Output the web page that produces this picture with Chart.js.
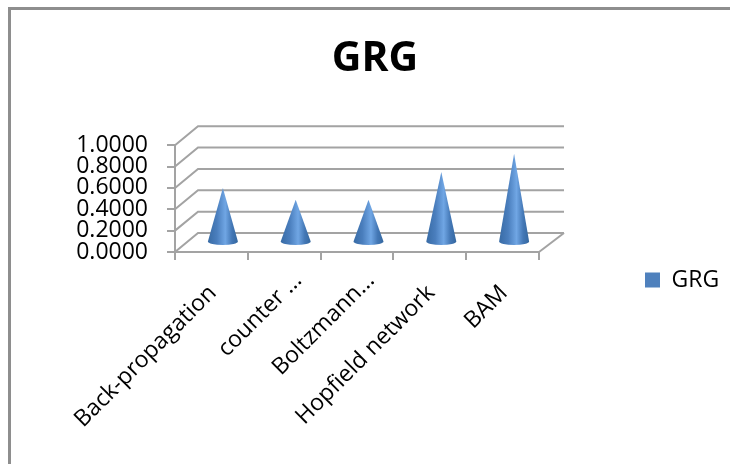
<!DOCTYPE html>
<html>
<head>
<meta charset="utf-8">
<script src="https://cdn.jsdelivr.net/npm/chart.js@4"></script>
<style>
  html, body { margin: 0; background: #fff; }
  #wrap { position: relative; width: 730px; height: 464px; overflow: hidden; }
  #frame { position: absolute; left: 8px; top: 7px; width: 730px; height: 470px; border-left: 3px solid #8e8e8e; border-top: 3px solid #8e8e8e; }
  canvas { position: absolute; left: 0; top: 0; }
</style>
</head>
<body>
<div id="wrap">
  <div id="frame"></div>
  <canvas id="myChart" width="730" height="464"></canvas>
</div>
<script>
const categories = ['Back-propagation', 'counter ...', 'Boltzmann...', 'Hopfield network', 'BAM'];
const grgValues = [0.51, 0.40, 0.40, 0.66, 0.83];
const yTicks = [0, 0.2, 0.4, 0.6, 0.8, 1];

// how far the back wall sits behind the axis plane
const depthX = 23;
const depthY = 19;

// bar element drawn as a cone standing half way into the floor
class ConeElement extends Chart.BarElement {
  static id = 'cone';
  draw(ctx) {
    const x = this.x + depthX / 2;
    const tip = this.y - depthY / 2;
    const base = this.base - depthY / 2;
    const r = 15;
    const grad = ctx.createLinearGradient(x - r, 0, x + r, 0);
    grad.addColorStop(0, '#386ba5');
    grad.addColorStop(0.3, '#4a7ebd');
    grad.addColorStop(0.58, '#70a6e4');
    grad.addColorStop(0.8, '#4478b6');
    grad.addColorStop(1, '#34679f');
    ctx.save();
    ctx.fillStyle = grad;
    ctx.beginPath();
    ctx.moveTo(x, tip);
    ctx.lineTo(x + r, base);
    ctx.ellipse(x, base, r, 3.5, 0, 0, Math.PI);
    ctx.closePath();
    ctx.fill();
    ctx.restore();
  }
}

class ConeController extends Chart.BarController {
  static id = 'cone';
  static defaults = { ...Chart.BarController.defaults, dataElementType: 'cone' };
  static overrides = Chart.BarController.overrides;
}

Chart.register(ConeElement, ConeController);

// back wall, side wall and floor edge
const wallPlugin = {
  id: 'walls',
  afterLayout(chart) {
    // legend sits out to the right, lower than the plot middle
    const legend = chart.legend;
    legend.left += 96;
    legend.right += 96;
    legend.top += 48;
    legend.bottom += 48;
  },
  beforeDatasetsDraw(chart) {
    const { ctx, scales: { x, y } } = chart;
    ctx.save();
    ctx.strokeStyle = '#a3a3a3';
    ctx.lineWidth = 2;
    for (const t of yTicks) {
      const py = y.getPixelForValue(t);
      ctx.beginPath();
      ctx.moveTo(x.left, py);
      ctx.lineTo(x.left + depthX, py - depthY);
      ctx.lineTo(x.right + depthX + 2, py - depthY);
      ctx.stroke();
    }
    ctx.beginPath();
    ctx.moveTo(x.right, y.bottom);
    ctx.lineTo(x.right + depthX + 2, y.bottom - depthY);
    ctx.stroke();
    ctx.restore();
  }
};

new Chart(document.getElementById('myChart'), {
  type: 'cone',
  data: {
    labels: categories,
    datasets: [{
      label: 'GRG',
      data: grgValues,
      backgroundColor: '#4f81bd'
    }]
  },
  plugins: [wallPlugin],
  options: {
    responsive: false,
    animation: false,
    layout: { padding: { left: 36, top: 0, right: 16, bottom: 0 } },
    scales: {
      x: {
        afterFit(scale) {
          scale.paddingRight = 191;
          scale.height = 212;
        },
        grid: { drawOnChartArea: false, tickLength: 8, color: '#a3a3a3', lineWidth: 2 },
        border: { color: '#a3a3a3', width: 2 },
        ticks: {
          autoSkip: false,
          minRotation: 45,
          maxRotation: 45,
          color: '#000',
          padding: 7,
          labelOffset: 14,
          font: { family: '"Open Sans"', size: 23 },
          // cut-off labels end further up the slope than the full ones
          callback(v) {
            const name = this.getLabelForValue(v);
            return name.endsWith('...') ? name : name + '   ';
          }
        }
      },
      y: {
        min: 0,
        max: 1,
        afterBuildTicks(scale) { scale.ticks = yTicks.map(v => ({ value: v })); },
        afterFit(scale) { scale.width = 139; },
        grid: { drawOnChartArea: false, tickLength: 8, color: '#a3a3a3', lineWidth: 2 },
        border: { color: '#a3a3a3', width: 2 },
        ticks: {
          autoSkip: false,
          color: '#000',
          padding: 19,
          font: { family: '"Open Sans"', size: 23 },
          callback: v => v.toFixed(4)
        }
      }
    },
    plugins: {
      tooltip: { enabled: false },
      title: {
        display: true,
        text: 'GRG',
        color: '#000',
        font: { family: '"Open Sans"', size: 41, weight: 'bold' },
        padding: { top: 35, bottom: 61 }
      },
      legend: {
        position: 'right',
        labels: {
          boxWidth: 15,
          boxHeight: 15,
          color: '#000',
          font: { family: '"Open Sans"', size: 23 }
        }
      }
    }
  }
});
</script>
</body>
</html>
